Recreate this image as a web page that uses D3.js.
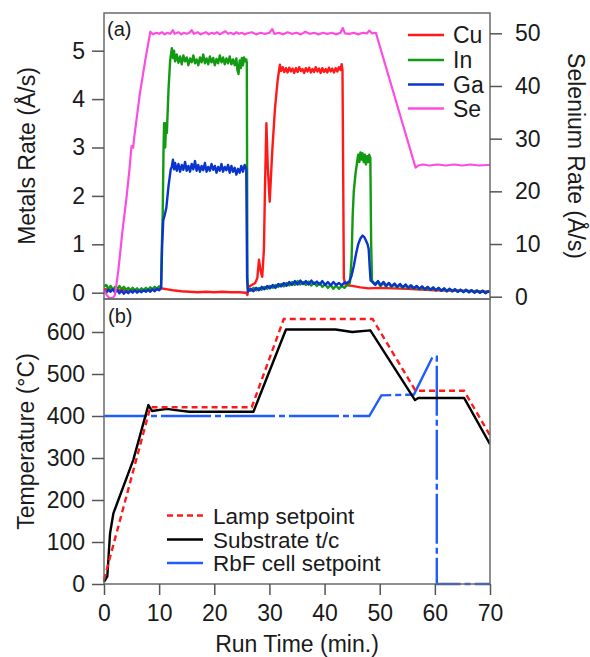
<!DOCTYPE html>
<html>
<head>
<meta charset="utf-8">
<script src="https://cdn.jsdelivr.net/npm/d3@7"></script>
<style>
  html, body { margin: 0; padding: 0; background: #fff; }
  svg text { font-family: "Liberation Sans", Arial, Helvetica, sans-serif; fill: #1a1a1a; }
</style>
</head>
<body>
<svg id="chart" width="590" height="657"></svg>
<script>
// ---- Deposition rates (top panel), [run time (min), rate] ----
const cuRate = [
  [0,0.07],[2,0.06],[4,0.05],[6,0.05],[8,0.06],[10,0.07],[10.5,0.09],[11.5,0.07],[12.5,0.05],[14,0.03],
  [15.5,0.02],[17,0.01],[18.5,0.02],[20,0.01],[21.5,0.02],[23,0.01],[24.5,0.01],[25.8,0.0],[26.0,-0.05],
  [26.2,0.12],[26.8,0.16],[27.4,0.2],[27.8,0.3],[28.1,0.68],[28.4,0.45],[28.7,0.33],[29.0,0.9],
  [29.2,2.2],[29.45,3.5],[29.7,2.6],[30.05,1.88],[30.5,2.9],[31.0,3.8],[31.5,4.4],[31.9,4.71],
  [32.1,4.58],[32.4,4.66],[32.7,4.56],[33.0,4.64],[33.3,4.55],[33.6,4.65],[33.9,4.57],[34.2,4.63],
  [34.5,4.54],[34.8,4.64],[35.1,4.56],[35.4,4.66],[35.7,4.58],[36.0,4.62],[36.3,4.54],[36.6,4.64],
  [36.9,4.57],[37.2,4.65],[37.5,4.55],[37.8,4.62],[38.1,4.56],[38.4,4.66],[38.7,4.57],[39.0,4.63],
  [39.3,4.54],[39.6,4.64],[39.9,4.56],[40.2,4.62],[40.5,4.55],[40.8,4.65],[41.1,4.57],[41.4,4.63],
  [41.7,4.55],[42.0,4.64],[42.3,4.57],[42.6,4.66],[42.9,4.6],[43.1,4.72],[43.25,4.6],[43.5,0.3],
  [43.8,0.16],[45,0.14],[46.5,0.11],[48,0.09],[50,0.1],[55,0.08],[60,0.05],[65,0.04],[70,0.02]
];
const inRate = [
  [0,0.12],[0.4,0.16],[0.8,0.08],[1.2,0.14],[1.6,0.06],[2.0,0.12],[2.4,0.08],[2.8,0.14],[3.2,0.07],
  [3.6,0.12],[4.0,0.06],[4.4,0.1],[4.8,0.05],[5.2,0.1],[5.6,0.05],[6.0,0.09],[6.4,0.04],[6.8,0.09],
  [7.2,0.05],[7.6,0.1],[8.0,0.06],[8.4,0.11],[8.8,0.07],[9.2,0.12],[9.6,0.08],[10.0,0.13],[10.35,0.12],
  [10.5,1.0],[10.65,1.65],[10.8,3.0],[10.9,3.5],[11.1,3.0],[11.25,3.5],[11.4,3.3],[11.7,4.2],[12.0,4.8],
  [12.3,5.05],[12.5,4.85],[12.7,5.0],[12.9,4.78],[13.2,4.92],[13.5,4.75],[13.8,4.88],[14.1,4.72],
  [14.4,4.9],[14.7,4.78],[15.0,4.86],[15.3,4.7],[15.6,4.84],[15.9,4.76],[16.2,4.9],[16.5,4.74],
  [16.8,4.82],[17.1,4.7],[17.4,4.86],[17.7,4.76],[18.0,4.92],[18.3,4.74],[18.6,4.84],[18.9,4.72],
  [19.2,4.88],[19.5,4.76],[19.8,4.85],[20.1,4.7],[20.4,4.83],[20.7,4.74],[21.0,4.9],[21.3,4.76],
  [21.6,4.86],[21.9,4.72],[22.2,4.84],[22.5,4.74],[22.8,4.88],[23.1,4.72],[23.4,4.82],[23.7,4.7],
  [24.0,4.84],[24.2,4.6],[24.4,4.52],[24.6,4.8],[24.8,4.64],[25.0,4.85],[25.2,4.7],[25.4,4.86],
  [25.6,4.78],[25.8,4.82],[25.9,4.75],[26.0,0.3],[26.1,0.08],
  [26.6,0.04],[27.1,0.1],[27.6,0.05],[28.1,0.1],[28.6,0.06],[29.1,0.12],[29.6,0.08],[30.1,0.14],
  [30.6,0.1],[31.1,0.16],[31.6,0.12],[32.1,0.18],[32.6,0.13],[33.1,0.2],[33.6,0.15],[34.1,0.22],
  [34.6,0.16],[35.1,0.24],[35.6,0.17],[36.1,0.22],[36.6,0.16],[37.1,0.23],[37.6,0.15],[38.1,0.21],
  [38.6,0.14],[39.1,0.2],[39.6,0.12],[40.1,0.18],[40.6,0.1],[41.1,0.16],[41.6,0.08],[42.1,0.15],
  [42.6,0.08],[43.1,0.14],[43.6,0.1],[44.1,0.16],[44.6,0.2],[44.9,0.7],[45.1,1.6],[45.3,2.1],
  [45.6,2.45],[45.9,2.7],[46.1,2.85],[46.3,2.7],[46.5,2.9],[46.7,2.75],[46.9,2.88],[47.1,2.7],
  [47.3,2.85],[47.5,2.65],[47.7,2.82],[47.9,2.7],[48.1,2.85],[48.3,2.78],[48.45,1.0],[48.6,0.25],
  [49.1,0.18],[49.6,0.23],[50.1,0.14],[50.6,0.21],[51.1,0.13],[51.6,0.2],[52.1,0.12],[52.6,0.18],
  [53.1,0.11],[53.6,0.17],[54.1,0.1],[54.6,0.16],[55.1,0.09],[55.6,0.15],[56.1,0.08],[56.6,0.13],
  [57.1,0.07],[57.6,0.12],[58.1,0.06],[58.6,0.11],[59.1,0.06],[59.6,0.1],[60.1,0.05],[60.6,0.09],
  [61.1,0.04],[61.6,0.08],[62.1,0.03],[62.6,0.08],[63.1,0.03],[63.6,0.07],[64.1,0.02],[64.6,0.06],
  [65.1,0.02],[65.6,0.06],[66.1,0.01],[66.6,0.05],[67.1,0.01],[67.6,0.05],[68.1,0.0],[68.6,0.04],
  [69.1,0.0],[69.6,0.03],[70,0.01]
];
const gaRate = [
  [0,0.04],[0.4,0.0],[0.8,0.06],[1.2,0.02],[1.6,0.07],[2.0,0.01],[2.4,0.05],[2.8,-0.01],[3.2,0.04],
  [3.6,-0.02],[4.0,0.03],[4.4,-0.01],[4.8,0.04],[5.2,0.0],[5.6,0.05],[6.0,0.0],[6.4,0.04],[6.8,0.01],
  [7.2,0.05],[7.6,0.02],[8.0,0.06],[8.4,0.02],[8.8,0.07],[9.2,0.03],[9.6,0.08],[10.0,0.05],[10.35,0.1],
  [10.55,1.0],[10.75,1.5],[11.0,1.6],[11.3,1.75],[11.7,2.2],[12.1,2.55],[12.3,2.6],[12.5,2.75],
  [12.7,2.55],[12.9,2.68],[13.2,2.52],[13.5,2.66],[13.8,2.5],[14.1,2.64],[14.4,2.54],[14.7,2.7],
  [15.0,2.52],[15.3,2.62],[15.6,2.5],[15.9,2.66],[16.2,2.55],[16.5,2.72],[16.8,2.52],[17.1,2.64],
  [17.4,2.5],[17.7,2.62],[18.0,2.53],[18.3,2.68],[18.6,2.5],[18.9,2.6],[19.2,2.52],[19.5,2.66],
  [19.8,2.54],[20.1,2.62],[20.4,2.48],[20.7,2.6],[21.0,2.52],[21.3,2.66],[21.6,2.5],[21.9,2.6],
  [22.2,2.53],[22.5,2.64],[22.8,2.48],[23.1,2.62],[23.4,2.5],[23.7,2.58],[24.0,2.44],[24.3,2.56],
  [24.6,2.48],[24.9,2.62],[25.2,2.5],[25.5,2.64],[25.8,2.55],[25.95,0.3],[26.1,0.02],
  [26.6,0.08],[27.1,0.03],[27.6,0.1],[28.1,0.05],[28.6,0.12],[29.1,0.07],[29.6,0.14],[30.1,0.09],
  [30.6,0.16],[31.1,0.1],[31.6,0.18],[32.1,0.13],[32.6,0.2],[33.1,0.14],[33.6,0.22],[34.1,0.16],
  [34.6,0.24],[35.1,0.17],[35.6,0.25],[36.1,0.18],[36.6,0.24],[37.1,0.17],[37.6,0.25],[38.1,0.18],
  [38.6,0.23],[39.1,0.17],[39.6,0.24],[40.1,0.16],[40.6,0.22],[41.1,0.15],[41.6,0.22],[42.1,0.16],
  [42.6,0.2],[43.1,0.15],[43.6,0.21],[44.1,0.2],[44.5,0.24],[44.9,0.35],[45.3,0.55],[45.7,0.8],
  [46.1,1.0],[46.5,1.12],[46.9,1.18],[47.2,1.15],[47.5,1.08],[47.8,1.0],[48.0,0.9],[48.2,0.5],
  [48.35,0.25],[48.7,0.22],[49.2,0.16],[49.7,0.24],[50.2,0.15],[50.7,0.22],[51.2,0.14],[51.7,0.2],
  [52.2,0.13],[52.7,0.19],[53.2,0.12],[53.7,0.18],[54.2,0.11],[54.7,0.17],[55.2,0.1],[55.7,0.15],
  [56.2,0.09],[56.7,0.14],[57.2,0.08],[57.7,0.13],[58.2,0.07],[58.7,0.12],[59.2,0.06],[59.7,0.11],
  [60.2,0.05],[60.7,0.1],[61.2,0.04],[61.7,0.09],[62.2,0.03],[62.7,0.08],[63.2,0.03],[63.7,0.07],
  [64.2,0.02],[64.7,0.06],[65.2,0.01],[65.7,0.06],[66.2,0.01],[66.7,0.05],[67.2,0.0],[67.7,0.04],
  [68.2,0.0],[68.7,0.04],[69.2,-0.01],[69.7,0.03],[70,0.0]
];
const seRate = [
  [0,1.2],[0.5,0.3],[1.0,-0.3],[1.6,-0.2],[2.0,0.3],[2.6,5],[3.3,12],[4.1,19],[4.6,24],[4.9,27.5],
  [5.0,28.6],[5.3,28.3],[5.45,30],[6.5,38.5],[7.5,45],[8.4,50.3],[8.9,49.8],[9.5,50.1],[10,49.9],
  [10.5,50.2],[11,49.8],[11.5,50.1],[12,49.9],[12.5,50.6],[12.8,49.9],[13.5,50.2],[14,49.8],
  [14.5,50.1],[15,49.9],[15.5,50.1],[15.9,50.6],[16.3,49.9],[17,50.2],[17.5,49.8],[18,50.0],
  [18.5,50.2],[19,49.8],[19.5,50.1],[20,49.9],[20.5,50.2],[21,49.8],[21.5,50.1],[22,50.4],
  [22.5,49.9],[23,50.1],[23.5,49.8],[24,50.2],[24.5,49.9],[25,50.1],[25.5,49.8],[26,50.0],
  [26.8,50.2],[27.6,49.8],[28.4,50.1],[29.2,49.9],[30.0,50.1],[30.5,50.8],[30.9,49.9],[31.7,50.1],
  [32.5,49.8],[33.3,50.2],[34.1,49.9],[34.9,50.1],[35.7,49.8],[36.5,50.3],[37.3,49.9],[38.1,50.1],
  [38.9,49.8],[39.7,50.1],[40.5,49.9],[41.3,50.1],[42.1,49.8],[42.9,50.1],[43.3,51.0],[43.7,50.0],
  [44.5,49.9],[45.3,50.1],[46.1,49.8],[46.9,50.1],[47.7,50.0],[48.1,50.5],[48.6,50.0],[49.3,50.1],
  [56.5,24.5],[57.0,24.9],[57.8,25.1],[59,24.9],[60.5,25.1],[62,24.9],[63.5,25.1],[65,24.9],
  [66.5,25.1],[68,24.9],[69.5,25.0],[70,25.0]
];

// ---- Temperatures (bottom panel), [run time (min), °C] ----
const lampSetpoint = [[0,10],[8.4,421],[26.8,421],[32.6,631],[48.7,631],[56.5,460],[65.3,460],[70,354]];
const substrateTC = [[0,5],[0.6,18],[1.1,121],[1.7,168],[2.6,200],[5.3,295],[8.05,426],[8.7,412],
  [11.4,417],[13,414],[15.5,410],[27.1,410],[33,606],[42,606],[45,600],[48.3,604],[56.4,438],
  [57,443],[65.3,443],[70,333]];
const rbfSetpoint = [[0,400],[48.1,400],[50.3,449],[56.2,451],[59.6,541],[60.35,541],[60.35,0],[70,0]];

// ---- Axis ticks and legend labels ----
const timeTicks = [0,10,20,30,40,50,60,70];
const metalTicks = [0,1,2,3,4,5];
const seTicks = [0,10,20,30,40,50];
const tempTicks = [0,100,200,300,400,500,600];
const rateNames = ["Cu","In","Ga","Se"];
const tempNames = ["Lamp setpoint","Substrate t/c","RbF cell setpoint"];

// ---- Layout ----
const L = 104, R = 490, topA = 13, split = 299, botB = 584;
const FS = 23;
const colors = { Cu: "#ff1a1a", In: "#129a12", Ga: "#0a35cc", Se: "#ff4ce0" };

const svg = d3.select("#chart");
const x = d3.scaleLinear().domain([0,70]).range([L, R]);
const yMetal = d3.scaleLinear().domain([0,5]).range([292.7, 50.7]);
const ySe = d3.scaleLinear().domain([0,50]).range([296.7, 33.3]);
const yTemp = d3.scaleLinear().domain([0,600]).range([botB, 332]);

const defs = svg.append("defs");
defs.append("clipPath").attr("id","clipA").append("rect")
  .attr("x", L).attr("y", topA).attr("width", R-L).attr("height", split-topA);
defs.append("clipPath").attr("id","clipB").append("rect")
  .attr("x", L-2).attr("y", split).attr("width", R-L+2).attr("height", botB-split+2);

// ---- Top panel: rates ----
const gA = svg.append("g").attr("clip-path","url(#clipA)");
const lineMetal = d3.line().x(d => x(d[0])).y(d => yMetal(d[1]));
const lineSe = d3.line().x(d => x(d[0])).y(d => ySe(d[1]));
[["Cu", cuRate], ["In", inRate], ["Ga", gaRate]].forEach(([k, data]) => {
  gA.append("path").datum(data).attr("d", lineMetal)
    .attr("fill","none").attr("stroke", colors[k]).attr("stroke-width", 2.4)
    .attr("stroke-linejoin","round");
});
gA.append("path").datum(seRate).attr("d", lineSe)
  .attr("fill","none").attr("stroke", colors.Se).attr("stroke-width", 2.2)
  .attr("stroke-linejoin","round");

// ---- Bottom panel: temperatures ----
const gB = svg.append("g").attr("clip-path","url(#clipB)");
const lineT = d3.line().x(d => x(d[0])).y(d => yTemp(d[1]));
gB.append("path").datum(rbfSetpoint).attr("d", lineT)
  .attr("fill","none").attr("stroke","#1f5bff").attr("stroke-width",2.4)
  .attr("stroke-dasharray","50,4,6,4").attr("stroke-dashoffset",7);
gB.append("path").datum(substrateTC).attr("d", lineT)
  .attr("fill","none").attr("stroke","#000").attr("stroke-width",2.4).attr("stroke-linejoin","round");
gB.append("path").datum(lampSetpoint).attr("d", lineT)
  .attr("fill","none").attr("stroke","#ff1a1a").attr("stroke-width",2.4)
  .attr("stroke-dasharray","6,4");

// ---- Frames ----
const frameStyle = s => s.attr("fill","none").attr("stroke","#6b6b6b").attr("stroke-width",1.5);
svg.append("rect").attr("x",L).attr("y",topA).attr("width",R-L).attr("height",split-topA).call(frameStyle);
svg.append("rect").attr("x",L).attr("y",split).attr("width",R-L).attr("height",botB-split).call(frameStyle);

// ---- Axes ----
function styleAxis(g) {
  g.select(".domain").remove();
  g.selectAll(".tick line").attr("stroke","#555").attr("stroke-width",1.5);
  g.selectAll(".tick text").attr("font-size", FS).attr("fill","#1a1a1a")
    .attr("font-family","'Liberation Sans', Arial, Helvetica, sans-serif");
}
svg.append("g").attr("transform",`translate(${L},0)`)
  .call(d3.axisLeft(yMetal).tickValues(metalTicks).tickSize(12).tickPadding(7).tickFormat(d3.format("d")))
  .call(styleAxis);
svg.append("g").attr("transform",`translate(${R},0)`)
  .call(d3.axisRight(ySe).tickValues(seTicks).tickSize(12).tickPadding(13).tickFormat(d3.format("d")))
  .call(styleAxis);
svg.append("g").attr("transform",`translate(${L},0)`)
  .call(d3.axisLeft(yTemp).tickValues(tempTicks).tickSize(12).tickPadding(7).tickFormat(d3.format("d")))
  .call(styleAxis);
svg.append("g").attr("transform",`translate(0,${botB})`)
  .call(d3.axisBottom(x).tickValues(timeTicks).tickSize(11).tickPadding(10).tickFormat(d3.format("d")))
  .call(styleAxis);

// ---- Axis titles ----
svg.append("text").attr("transform","translate(35,156) rotate(-90)")
  .attr("text-anchor","middle").attr("font-size",FS).text("Metals Rate (Å/s)");
svg.append("text").attr("transform","translate(34,441.5) rotate(-90)")
  .attr("text-anchor","middle").attr("font-size",FS).text("Temperature (°C)");
svg.append("text").attr("transform","translate(568,156) rotate(90)")
  .attr("text-anchor","middle").attr("font-size",FS).text("Selenium Rate (Å/s)");
svg.append("text").attr("x",(L+R)/2).attr("y",651.5)
  .attr("text-anchor","middle").attr("font-size",FS).text("Run Time (min.)");

// ---- Panel tags ----
svg.append("text").attr("x",107).attr("y",36).attr("font-size",20).text("(a)");
svg.append("text").attr("x",108).attr("y",322.5).attr("font-size",20).text("(b)");

// ---- Legends ----
const legA = svg.append("g");
const legAy = [35, 60, 84.5, 108.5];
rateNames.forEach((n, i) => {
  legA.append("line").attr("x1",408).attr("x2",444).attr("y1",legAy[i]).attr("y2",legAy[i])
    .attr("stroke", colors[n]).attr("stroke-width",2.5);
  legA.append("text").attr("x",453).attr("y",legAy[i]+8.3).attr("font-size",FS).text(n);
});
const legB = svg.append("g");
const legBy = [515.5, 539.5, 563];
const legBstyle = [
  { c: "#ff1a1a", dash: "6,4" },
  { c: "#000", dash: null },
  { c: "#1f5bff", dash: null }
];
tempNames.forEach((n, i) => {
  const ln = legB.append("line").attr("x1",167).attr("x2",203).attr("y1",legBy[i]).attr("y2",legBy[i])
    .attr("stroke", legBstyle[i].c).attr("stroke-width",2.5);
  if (legBstyle[i].dash) ln.attr("stroke-dasharray", legBstyle[i].dash);
  legB.append("text").attr("x",213).attr("y",legBy[i]+8).attr("font-size",22.5).text(n);
});
</script>
</body>
</html>
